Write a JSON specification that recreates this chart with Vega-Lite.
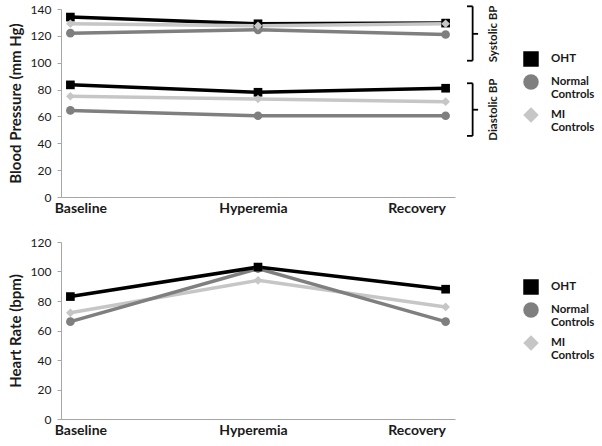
{
  "$schema": "https://vega.github.io/schema/vega-lite/v6.json",
  "background": "white",
  "padding": {"left": 8, "top": 3, "right": 5, "bottom": 3},
  "config": {
    "font": "Lato",
    "view": {"stroke": null},
    "axis": {
      "grid": false,
      "domainColor": "#a6a6a6",
      "tickColor": "#a6a6a6",
      "labelFont": "Lato",
      "labelColor": "#1a1a1a",
      "titleColor": "#1a1a1a",
      "labelFontSize": 12,
      "titleFont": "Lato",
      "titleFontSize": 15,
      "titleFontWeight": "bold"
    },
    "legend": {
      "labelFont": "Lato",
      "labelFontSize": 11.5,
      "labelFontWeight": "bold",
      "labelColor": "#1a1a1a",
      "symbolSize": 240,
      "symbolStrokeWidth": 0,
      "rowPadding": 7,
      "padding": 0,
      "labelOffset": 12
    },
    "style": {"guide-label": {"lineHeight": 12.5}}
  },
  "datasets": {
    "bp": [
      {"group": "OHT", "measure": "Systolic", "visit": 1, "time": "Baseline", "value": 134},
      {"group": "OHT", "measure": "Systolic", "visit": 2, "time": "Hyperemia", "value": 129},
      {"group": "OHT", "measure": "Systolic", "visit": 3, "time": "Recovery", "value": 129.5},
      {"group": "OHT", "measure": "Diastolic", "visit": 1, "time": "Baseline", "value": 83.5},
      {"group": "OHT", "measure": "Diastolic", "visit": 2, "time": "Hyperemia", "value": 78},
      {"group": "OHT", "measure": "Diastolic", "visit": 3, "time": "Recovery", "value": 81},
      {"group": "Normal Controls", "measure": "Systolic", "visit": 1, "time": "Baseline", "value": 122},
      {"group": "Normal Controls", "measure": "Systolic", "visit": 2, "time": "Hyperemia", "value": 124.5},
      {"group": "Normal Controls", "measure": "Systolic", "visit": 3, "time": "Recovery", "value": 121},
      {"group": "Normal Controls", "measure": "Diastolic", "visit": 1, "time": "Baseline", "value": 64.5},
      {"group": "Normal Controls", "measure": "Diastolic", "visit": 2, "time": "Hyperemia", "value": 60.5},
      {"group": "Normal Controls", "measure": "Diastolic", "visit": 3, "time": "Recovery", "value": 60.5},
      {"group": "MI Controls", "measure": "Systolic", "visit": 1, "time": "Baseline", "value": 129},
      {"group": "MI Controls", "measure": "Systolic", "visit": 2, "time": "Hyperemia", "value": 127.5},
      {"group": "MI Controls", "measure": "Systolic", "visit": 3, "time": "Recovery", "value": 129},
      {"group": "MI Controls", "measure": "Diastolic", "visit": 1, "time": "Baseline", "value": 75},
      {"group": "MI Controls", "measure": "Diastolic", "visit": 2, "time": "Hyperemia", "value": 73},
      {"group": "MI Controls", "measure": "Diastolic", "visit": 3, "time": "Recovery", "value": 71}
    ],
    "hr": [
      {"group": "MI Controls", "visit": 1, "time": "Baseline", "value": 72},
      {"group": "MI Controls", "visit": 2, "time": "Hyperemia", "value": 94},
      {"group": "MI Controls", "visit": 3, "time": "Recovery", "value": 76},
      {"group": "Normal Controls", "visit": 1, "time": "Baseline", "value": 66},
      {"group": "Normal Controls", "visit": 2, "time": "Hyperemia", "value": 102},
      {"group": "Normal Controls", "visit": 3, "time": "Recovery", "value": 66},
      {"group": "OHT", "visit": 1, "time": "Baseline", "value": 83},
      {"group": "OHT", "visit": 2, "time": "Hyperemia", "value": 103},
      {"group": "OHT", "visit": 3, "time": "Recovery", "value": 88}
    ],
    "brackets": [
      {"label": "Systolic BP", "value": 142, "bottom": 101.5, "mid": 121.5},
      {"label": "Diastolic BP", "value": 84.7, "bottom": 45.5, "mid": 65}
    ]
  },
  "spacing": 21,
  "resolve": {"legend": {"color": "independent", "shape": "independent"}},
  "vconcat": [
    {
      "width": 394,
      "height": 188,
      "layer": [
        {
          "data": {"name": "bp"},
          "encoding": {
            "x": {
              "field": "visit", "type": "quantitative",
              "scale": {"domain": [0.95, 3.05], "nice": false, "zero": false},
              "axis": {"title": null, "ticks": false, "values": [1, 2, 3], "labelFontSize": 14, "labelFontWeight": "bold", "labelPadding": 4,
                       "labelExpr": "datum.value === 1 ? 'Baseline' : datum.value === 2 ? 'Hyperemia' : 'Recovery'",
                       "labelOffset": {"expr": "datum.value === 1 ? 10 : datum.value === 3 ? -29 : -5"}}
            },
            "y": {
              "field": "value", "type": "quantitative",
              "scale": {"domain": [0, 140], "nice": false},
              "title": "Blood Pressure (mm Hg)",
              "axis": {"values": [0, 20, 40, 60, 80, 100, 120, 140], "tickSize": 4, "labelPadding": 6, "titlePadding": 7}
            },
            "color": {
              "field": "group", "type": "nominal",
              "scale": {"domain": ["OHT", "Normal Controls", "MI Controls"], "range": ["#000000", "#7f7f7f", "#c6c6c6"]},
              "legend": {"title": null, "orient": "none", "legendX": 462, "legendY": 42,
                         "labelExpr": "datum.label === 'OHT' ? 'OHT' : split(datum.label, ' ')"}
            }
          },
          "layer": [
            {"mark": {"type": "line", "strokeWidth": 3.5}, "encoding": {"detail": {"field": "measure"}}},
            {
              "mark": {"type": "point", "filled": true, "opacity": 1, "size": 75},
              "encoding": {
                "shape": {
                  "field": "group", "type": "nominal",
                  "scale": {"domain": ["OHT", "Normal Controls", "MI Controls"], "range": ["square", "circle", "diamond"]},
                  "legend": {"title": null, "orient": "none", "legendX": 462, "legendY": 42,
                             "labelExpr": "datum.label === 'OHT' ? 'OHT' : split(datum.label, ' ')"}
                }
              }
            }
          ]
        },
        {
          "data": {"name": "brackets"},
          "layer": [
            {
              "mark": {"type": "rule", "color": "black", "strokeWidth": 1.8},
              "encoding": {
                "x": {"datum": 3.144, "type": "quantitative"},
                "y": {"field": "value", "type": "quantitative", "title": "Blood Pressure (mm Hg)", "scale": {"domain": [0, 140], "nice": false},
                      "axis": {"values": [0, 20, 40, 60, 80, 100, 120, 140], "tickSize": 4, "labelPadding": 6, "titlePadding": 7}},
                "y2": {"field": "bottom"}
              }
            },
            {
              "mark": {"type": "rule", "color": "black", "strokeWidth": 1.8},
              "encoding": {
                "x": {"datum": 3.114, "type": "quantitative"},
                "x2": {"datum": 3.144},
                "y": {"field": "value", "type": "quantitative", "title": "Blood Pressure (mm Hg)",
                      "axis": {"values": [0, 20, 40, 60, 80, 100, 120, 140], "tickSize": 4, "labelPadding": 6, "titlePadding": 7}}
              }
            },
            {
              "mark": {"type": "rule", "color": "black", "strokeWidth": 1.8},
              "encoding": {
                "x": {"datum": 3.114, "type": "quantitative"},
                "x2": {"datum": 3.144},
                "y": {"field": "bottom", "type": "quantitative", "title": "Blood Pressure (mm Hg)",
                      "axis": {"values": [0, 20, 40, 60, 80, 100, 120, 140], "tickSize": 4, "labelPadding": 6, "titlePadding": 7}}
              }
            },
            {
              "mark": {"type": "rule", "color": "black", "strokeWidth": 1.8},
              "encoding": {
                "x": {"datum": 3.144, "type": "quantitative"},
                "x2": {"datum": 3.173},
                "y": {"field": "mid", "type": "quantitative", "title": "Blood Pressure (mm Hg)",
                      "axis": {"values": [0, 20, 40, 60, 80, 100, 120, 140], "tickSize": 4, "labelPadding": 6, "titlePadding": 7}}
              }
            },
            {
              "mark": {"type": "text", "angle": 270, "fontSize": 11.5, "fontWeight": "bold", "font": "Lato", "color": "#1a1a1a", "align": "center", "baseline": "middle"},
              "encoding": {
                "x": {"datum": 3.258, "type": "quantitative"},
                "y": {"field": "mid", "type": "quantitative", "title": "Blood Pressure (mm Hg)",
                      "axis": {"values": [0, 20, 40, 60, 80, 100, 120, 140], "tickSize": 4, "labelPadding": 6, "titlePadding": 7}},
                "text": {"field": "label"}
              }
            }
          ]
        }
      ]
    },
    {
      "width": 394,
      "height": 177,
      "data": {"name": "hr"},
      "encoding": {
        "x": {
          "field": "visit", "type": "quantitative",
          "scale": {"domain": [0.95, 3.05], "nice": false, "zero": false},
          "axis": {"title": null, "ticks": false, "values": [1, 2, 3], "labelFontSize": 14, "labelFontWeight": "bold", "labelPadding": 4,
                   "labelExpr": "datum.value === 1 ? 'Baseline' : datum.value === 2 ? 'Hyperemia' : 'Recovery'",
                   "labelOffset": {"expr": "datum.value === 1 ? 10 : datum.value === 3 ? -29 : -5"}}
        },
        "y": {
          "field": "value", "type": "quantitative",
          "scale": {"domain": [0, 120], "nice": false},
          "axis": {"title": "Heart Rate (bpm)", "values": [0, 20, 40, 60, 80, 100, 120], "tickSize": 4, "labelPadding": 6, "titlePadding": 7}
        },
        "color": {
          "field": "group", "type": "nominal",
          "scale": {"domain": ["OHT", "Normal Controls", "MI Controls"], "range": ["#000000", "#7f7f7f", "#c6c6c6"]},
          "legend": {"title": null, "orient": "none", "legendX": 462, "legendY": 37,
                     "labelExpr": "datum.label === 'OHT' ? 'OHT' : split(datum.label, ' ')"}
        }
      },
      "layer": [
        {"mark": {"type": "line", "strokeWidth": 3.5}},
        {
          "mark": {"type": "point", "filled": true, "opacity": 1, "size": 75},
          "encoding": {
            "shape": {
              "field": "group", "type": "nominal",
              "scale": {"domain": ["OHT", "Normal Controls", "MI Controls"], "range": ["square", "circle", "diamond"]},
              "legend": {"title": null, "orient": "none", "legendX": 462, "legendY": 37,
                         "labelExpr": "datum.label === 'OHT' ? 'OHT' : split(datum.label, ' ')"}
            }
          }
        }
      ]
    }
  ]
}
